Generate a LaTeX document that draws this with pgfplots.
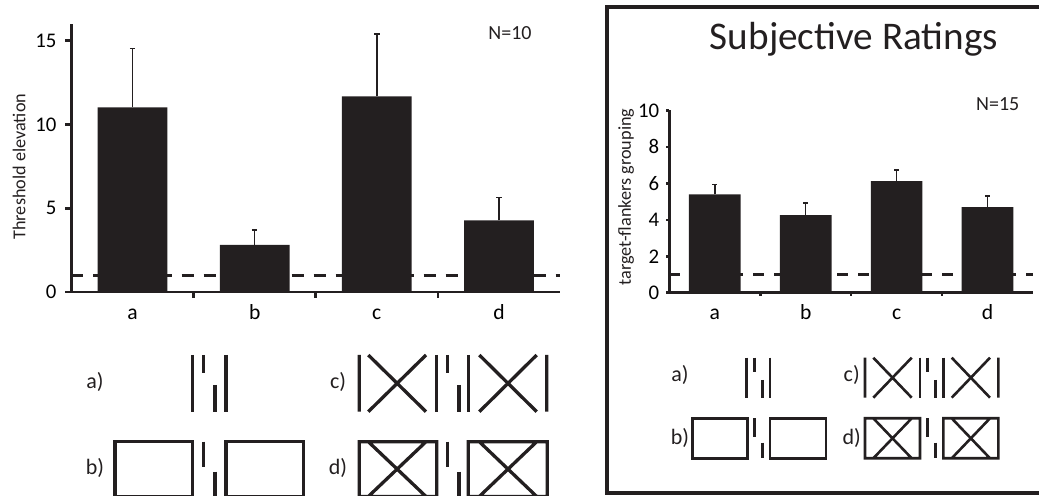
\documentclass[border=0pt]{standalone}
\usepackage{pgfplots}
\pgfplotsset{compat=1.18}
\usepackage{fontspec}
\setmainfont{Carlito}
\definecolor{ink}{HTML}{231F20}
\begin{document}
\begin{tikzpicture}[x=0.5pt,y=-0.5pt]
\path[use as bounding box] (0,0) rectangle (1039,496);
\clip (0,0) rectangle (1039,496);
\pgfplotsset{
  common/.style={
    scale only axis,
    xmin=-0.5, xmax=3.5, ymin=0,
    axis lines=left,
    axis line style={-, line width=1.3pt, color=ink},
    xtick={0.5,1.5,2.5}, xticklabels={},
    extra x ticks={0,1,2,3}, extra x tick labels={a,b,c,d},
    extra x tick style={major tick length=0pt, tick label style={font=\fontsize{10.8}{12}\selectfont, text height=7.5pt, text depth=0pt, yshift=-2.5pt}},
    tick align=outside,
    tick style={line width=1.3pt, color=ink},
    yticklabel style={font=\fontsize{10.4}{12}\selectfont},
    /pgf/number format/assume math mode=true,
    clip=false,
  },
}
% left axis
\begin{axis}[common,
  at={(35.75pt,-146pt)}, anchor=south west,
  width=244.25pt, height=134pt,
  ymax=16, ytick={0,5,10,15},
  major tick length=3pt,
  yticklabel style={xshift=-1pt},
]
\addplot[ink, line width=1.4pt, dash pattern=on 6pt off 5pt] coordinates {(-0.5,1) (3.5,1)};
\addplot[ybar, bar width=34.85pt, fill=ink, draw=none,
  error bars/.cd, y dir=plus, y explicit,
  error bar style={line width=0.8pt, color=ink},
  error mark options={rotate=90, mark size=1.4pt, line width=0.8pt, color=ink}]
  coordinates {(0,11.02) +- (0,3.51) (1,2.81) +- (0,0.90) (2,11.68) +- (0,3.73) (3,4.28) +- (0,1.35)};
\end{axis}
% right axis
\begin{axis}[common,
  at={(334.65pt,-146.35pt)}, anchor=south west,
  width=181.85pt, height=91.1pt,
  ymax=10, ytick={0,2,4,6,8,10},
  major tick length=1.5pt,
]
\addplot[ink, line width=1.4pt, dash pattern=on 5.5pt off 5pt] coordinates {(-0.5,1) (3.5,1)};
\addplot[ybar, bar width=25.85pt, fill=ink, draw=none,
  error bars/.cd, y dir=plus, y explicit,
  error bar style={line width=0.8pt, color=ink},
  error mark options={rotate=90, mark size=1.2pt, line width=0.8pt, color=ink}]
  coordinates {(0,5.39) +- (0,0.55) (1,4.26) +- (0,0.66) (2,6.12) +- (0,0.60) (3,4.70) +- (0,0.60)};
\end{axis}
% texts
\node[rotate=90, font=\fontsize{9.1}{10}\selectfont, text=ink] at (19,166.7) {Threshold elevation};
\node[rotate=90, font=\fontsize{9.1}{10}\selectfont, text=ink] at (626,197) {target-flankers grouping};
\node[font=\fontsize{10}{11}\selectfont, text=ink] at (510,33) {N=10};
\node[font=\fontsize{10}{11}\selectfont, text=ink] at (997.7,104) {N=15};
\node[font=\fontsize{19.6}{22}\selectfont, text=ink, anchor=base] at (854,50) {Subjective Ratings};
% box
\draw[ink, line width=2.15pt] (607,7) rectangle (1060,493);
% stimulus labels
\begin{scope}[every node/.style={font=\fontsize{11}{12}\selectfont, text=ink}]
\node at (95,381.7) {a)};
\node at (95,468) {b)};
\node at (338,381.7) {c)};
\node at (338,468) {d)};
\node at (680,375) {a)};
\node at (680,438.3) {b)};
\node at (851.7,375) {c)};
\node at (851.7,438.3) {d)};
\end{scope}
% left stimuli
\begin{scope}[ink, line width=1.65pt]
\draw (192.7,355)--(192.7,411.7) (203.7,355)--(203.7,372.7) (215,385)--(215,411.7) (226,355)--(226,411.7);
\draw (359.3,355)--(359.3,411.7) (368.3,355)--(426,411.7) (368.3,411.7)--(426,355);
\draw (436.7,355)--(436.7,411.7) (447.7,355)--(447.7,372.7) (459,385)--(459,411.7) (468.3,355)--(468.3,411.7);
\draw (479.3,355)--(536.7,411.7) (479.3,411.7)--(536.7,355) (546.7,355)--(546.7,411.7);
\draw (115,441.7) rectangle (192.7,496.5);
\draw (203.7,441.7)--(203.7,466.7) (215,471.7)--(215,500);
\draw (226,441.7) rectangle (303.3,496.5);
\draw (359.3,441.7) rectangle (436.7,496.5) (368.3,441.7)--(426,496.5) (368.3,496.5)--(426,441.7);
\draw (447.7,441.7)--(447.7,466.7) (459,471.7)--(459,500);
\draw (468.3,441.7) rectangle (547.2,496.5) (479.3,441.7)--(536.7,496.5) (479.3,496.5)--(536.7,441.7);
\end{scope}
% right stimuli
\begin{scope}[ink, line width=1.3pt]
\draw (746.7,357.7)--(746.7,397.7) (754.3,357.7)--(754.3,371.7) (762.3,380)--(762.3,397.7) (770,357.7)--(770,397.7);
\draw (865,357.7)--(865,397.7) (873.3,357.7)--(911.7,397.7) (873.3,397.7)--(911.7,357.7);
\draw (920,357.7)--(920,397.7) (927.7,357.7)--(927.7,371.7) (935.7,380)--(935.7,397.7) (943.3,357.7)--(943.3,397.7);
\draw (951.7,357.7)--(990,397.7) (951.7,397.7)--(990,357.7) (998.3,357.7)--(998.3,397.7);
\draw (692.3,418.3) rectangle (747.7,458.3);
\draw (754.3,418.3)--(754.3,436.7) (762.3,442.7)--(762.3,458.3);
\draw (770,418.3) rectangle (826,458.3);
\draw (865,418.3) rectangle (920,458.3) (873.3,418.3)--(911.7,458.3) (873.3,458.3)--(911.7,418.3);
\draw (927.7,418.3)--(927.7,436.7) (935.7,442.7)--(935.7,458.3);
\draw (943.3,418.3) rectangle (998.3,458.3) (951.7,418.3)--(990,458.3) (951.7,458.3)--(990,418.3);
\end{scope}
\end{tikzpicture}
\end{document}
